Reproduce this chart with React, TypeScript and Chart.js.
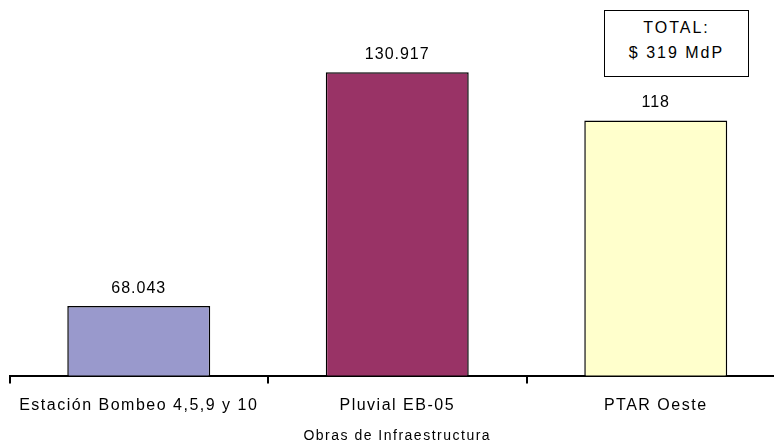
import React, { useEffect, useRef } from "react";
import { Chart, registerables } from "chart.js";

Chart.register(...registerables);

const categories = ["Estación Bombeo 4,5,9 y 10", "Pluvial EB-05", "PTAR Oeste"];
const values = [68.043, 130.917, 118];
const valueLabels = ["68.043", "130.917", "118"];
const barColors = ["#9999CC", "#993366", "#FFFFCC"];
const axisTitle = "Obras de Infraestructura";
const totalLines = ["TOTAL:", "$ 319 MdP"];
const yMin = 49.35;
const yMax = 145;

const FONT = "'Liberation Sans', Arial, sans-serif";

const spacingPlugin = {
  id: "spacing",
  beforeUpdate(chart: any) {
    chart.ctx.letterSpacing = "1.5px";
  },
  beforeDraw(chart: any) {
    chart.ctx.letterSpacing = "1.5px";
  },
};

const valueLabelPlugin = {
  id: "valueLabels",
  afterDatasetsDraw(chart: any) {
    const ctx = chart.ctx;
    const meta = chart.getDatasetMeta(0);
    ctx.save();
    ctx.letterSpacing = "1px";
    ctx.fillStyle = "#000";
    ctx.font = `16px ${FONT}`;
    ctx.textAlign = "center";
    ctx.textBaseline = "middle";
    meta.data.forEach((bar: any, i: number) => {
      ctx.fillText(valueLabels[i], bar.x, bar.y - 18);
    });
    ctx.restore();
  },
};

export default function App() {
  const ref = useRef<HTMLCanvasElement | null>(null);

  useEffect(() => {
    if (!ref.current) return;
    const chart = new Chart(ref.current, {
      type: "bar",
      data: {
        labels: categories,
        datasets: [
          {
            data: values,
            backgroundColor: barColors,
            borderColor: "#000",
            borderWidth: 1.5,
            barPercentage: 0.553,
            categoryPercentage: 1,
          },
        ],
      },
      options: {
        responsive: false,
        animation: false,
        layout: { padding: { left: 9.5, right: 5, top: 20, bottom: 0 } },
        plugins: {
          legend: { display: false },
          tooltip: { enabled: false },
        },
        scales: {
          y: {
            display: false,
            min: yMin,
            max: yMax,
          },
          x: {
            grid: {
              offset: true,
              drawOnChartArea: false,
              drawTicks: true,
              tickLength: 8,
              color: "#000",
              lineWidth: 2,
            },
            border: { display: true, color: "#000", width: 2 },
            ticks: {
              color: "#000",
              font: { family: FONT, size: 16 },
              padding: 12.7,
              maxRotation: 0,
              autoSkip: false,
            },
            title: {
              display: true,
              text: axisTitle,
              color: "#000",
              font: { family: FONT, size: 14 },
              padding: { top: 0, bottom: 0 },
            },
          },
        },
      },
      plugins: [spacingPlugin, valueLabelPlugin],
    });
    return () => chart.destroy();
  }, []);

  return (
    <div
      style={{
        position: "fixed",
        left: 0,
        top: 0,
        width: 774,
        height: 445,
        overflow: "hidden",
        background: "#fff",
      }}
    >
      <canvas ref={ref} width={790} height={445} style={{ position: "absolute", left: 0, top: 0 }} />
      <div
        style={{
          position: "absolute",
          left: 604,
          top: 10,
          width: 145,
          height: 67,
          boxSizing: "border-box",
          border: "1.5px solid #000",
          background: "#fff",
          textAlign: "center",
          fontFamily: FONT,
          fontSize: 16,
          letterSpacing: "2px",
          lineHeight: "25px",
          paddingTop: 4,
          color: "#000",
        }}
      >
        {totalLines.map((t, i) => (
          <div key={i}>{t}</div>
        ))}
      </div>
    </div>
  );
}
